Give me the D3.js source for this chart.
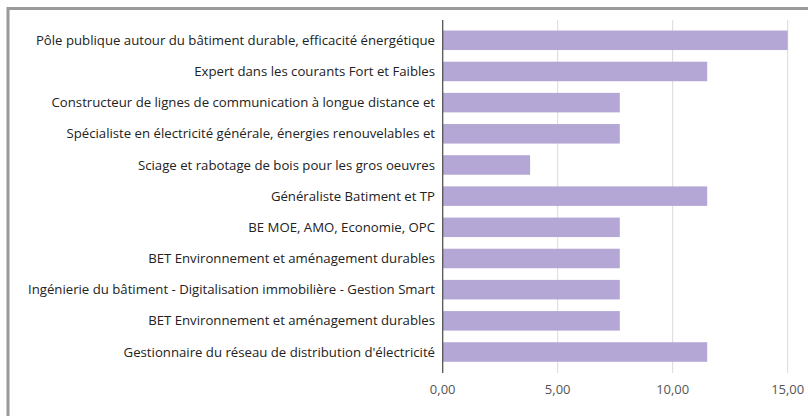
<!DOCTYPE html>
<html><head><meta charset="utf-8">
<script src="https://cdn.jsdelivr.net/npm/d3@7"></script>
<style>html,body{margin:0;padding:0;background:#fff;overflow:hidden;}svg{display:block;}</style>
</head><body>
<svg id="c" width="808" height="416"></svg>
<script>
const categories = [
  "Pôle publique autour du bâtiment durable, efficacité énergétique",
  "Expert dans les courants Fort et Faibles",
  "Constructeur de lignes de communication à longue distance et",
  "Spécialiste en électricité générale, énergies renouvelables et",
  "Sciage et rabotage de bois pour les gros oeuvres",
  "Généraliste Batiment et TP",
  "BE MOE, AMO, Economie, OPC",
  "BET Environnement et aménagement durables",
  "Ingénierie du bâtiment - Digitalisation immobilière - Gestion Smart",
  "BET Environnement et aménagement durables",
  "Gestionnaire du réseau de distribution d'électricité"
];
const values = [15, 11.5, 7.7, 7.7, 3.8, 11.5, 7.7, 7.7, 7.7, 7.7, 11.5];
const xTicks = [0, 5, 10, 15];

const svg = d3.select("#c");
svg.append("rect").attr("x",8).attr("y",8.5).attr("width",2000).attr("height",2000)
  .attr("fill","none").attr("stroke","#9a9a9a").attr("stroke-width",3);

const x = d3.scaleLinear().domain([0,15]).range([442.7, 787.7]);
const idx = categories.map((d,i)=>i);
const y = d3.scaleBand().domain(idx).range([24.7, 367.6]).paddingInner(0.374).paddingOuter(0.187);

const fmt = d => d3.format(".2f")(d).replace(".", ",");

// gridlines
svg.append("g").selectAll("line").data(xTicks.slice(1)).join("line")
  .attr("x1",d=>x(d)).attr("x2",d=>x(d)).attr("y1",20).attr("y2",373)
  .attr("stroke","#d9d9d9").attr("stroke-width",1);

// bars
svg.append("g").selectAll("rect").data(values).join("rect")
  .attr("x",x(0)).attr("y",(d,i)=>y(i)).attr("width",d=>x(d)-x(0)).attr("height",y.bandwidth())
  .attr("fill","#b4a7d6");

// y axis line
svg.append("line").attr("x1",x(0)).attr("x2",x(0)).attr("y1",20).attr("y2",373)
  .attr("stroke","#555").attr("stroke-width",1.3);

// category labels
svg.append("g").selectAll("text").data(categories).join("text")
  .attr("x",435).attr("y",(d,i)=>y(i)+y.bandwidth()/2).attr("dy","0.35em")
  .attr("text-anchor","end").attr("font-family","Open Sans, sans-serif").attr("font-size",13.2)
  .attr("fill","#222").text(d=>d);

// x tick labels
svg.append("g").selectAll("text").data(xTicks).join("text")
  .attr("x",d=>x(d)).attr("y",389).attr("dy","0.35em").attr("text-anchor","middle")
  .attr("font-family","Open Sans, sans-serif").attr("font-size",13).attr("fill","#555")
  .text(fmt);
</script>
</body></html>
